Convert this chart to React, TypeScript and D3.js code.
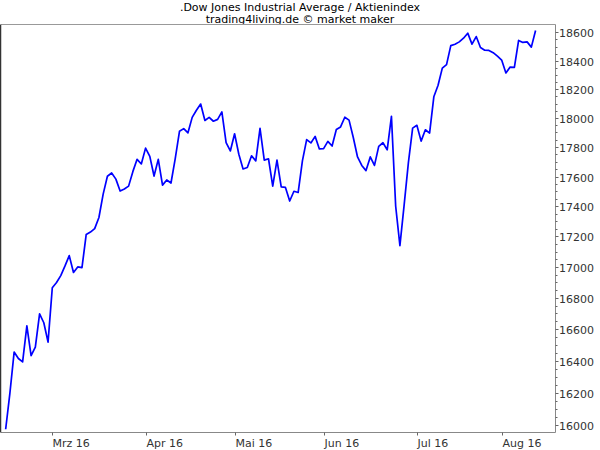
import React from "react";
import * as d3 from "d3";

const titleLines = [".Dow Jones Industrial Average / Aktienindex", "trading4living.de © market maker"];

const dates = [
  "2016-02-12", "2016-02-16", "2016-02-17", "2016-02-18", "2016-02-19", "2016-02-22", "2016-02-23", "2016-02-24", "2016-02-25", "2016-02-26", "2016-02-29",
  "2016-03-01", "2016-03-02", "2016-03-03", "2016-03-04", "2016-03-07", "2016-03-08", "2016-03-09", "2016-03-10", "2016-03-11", "2016-03-14", "2016-03-15",
  "2016-03-16", "2016-03-17", "2016-03-18", "2016-03-21", "2016-03-22", "2016-03-23", "2016-03-24", "2016-03-28", "2016-03-29", "2016-03-30", "2016-03-31",
  "2016-04-01", "2016-04-04", "2016-04-05", "2016-04-06", "2016-04-07", "2016-04-08", "2016-04-11", "2016-04-12", "2016-04-13", "2016-04-14", "2016-04-15",
  "2016-04-18", "2016-04-19", "2016-04-20", "2016-04-21", "2016-04-22", "2016-04-25", "2016-04-26", "2016-04-27", "2016-04-28", "2016-04-29",
  "2016-05-02", "2016-05-03", "2016-05-04", "2016-05-05", "2016-05-06", "2016-05-09", "2016-05-10", "2016-05-11", "2016-05-12", "2016-05-13",
  "2016-05-16", "2016-05-17", "2016-05-18", "2016-05-19", "2016-05-20", "2016-05-23", "2016-05-24", "2016-05-25", "2016-05-26", "2016-05-27", "2016-05-31",
  "2016-06-01", "2016-06-02", "2016-06-03", "2016-06-06", "2016-06-07", "2016-06-08", "2016-06-09", "2016-06-10", "2016-06-13", "2016-06-14", "2016-06-15",
  "2016-06-16", "2016-06-17", "2016-06-20", "2016-06-21", "2016-06-22", "2016-06-23", "2016-06-24", "2016-06-27", "2016-06-28", "2016-06-29", "2016-06-30",
  "2016-07-01", "2016-07-05", "2016-07-06", "2016-07-07", "2016-07-08", "2016-07-11", "2016-07-12", "2016-07-13", "2016-07-14", "2016-07-15",
  "2016-07-18", "2016-07-19", "2016-07-20", "2016-07-21", "2016-07-22", "2016-07-25", "2016-07-26", "2016-07-27", "2016-07-28", "2016-07-29",
  "2016-08-01", "2016-08-02", "2016-08-03", "2016-08-04", "2016-08-05", "2016-08-08", "2016-08-09", "2016-08-10", "2016-08-11",
];

const closes = [
  15973.84, 16196.41, 16453.83, 16413.43, 16391.99, 16620.66, 16431.78, 16484.99, 16697.29, 16639.97, 16516.5,
  16865.08, 16899.32, 16943.9, 17006.77, 17073.95, 16964.1, 17000.36, 16995.13, 17213.31, 17229.13, 17251.53,
  17325.76, 17481.49, 17602.3, 17623.87, 17582.57, 17502.59, 17515.73, 17535.39, 17633.11, 17716.66, 17685.09,
  17792.75, 17737.0, 17603.32, 17716.05, 17541.96, 17576.96, 17556.41, 17721.25, 17908.28, 17926.43, 17897.46,
  18004.16, 18053.6, 18096.27, 17982.52, 18003.75, 17977.24, 17990.32, 18041.55, 17830.76, 17773.64,
  17891.16, 17750.91, 17651.26, 17660.71, 17740.63, 17705.91, 17928.35, 17711.12, 17720.5, 17535.32,
  17710.71, 17529.98, 17526.62, 17435.4, 17500.94, 17492.93, 17706.05, 17851.51, 17828.29, 17873.22, 17787.2,
  17789.67, 17838.56, 17807.06, 17920.33, 17938.28, 18005.05, 17985.19, 17865.34, 17732.48, 17674.82, 17640.17,
  17733.1, 17675.16, 17804.87, 17829.73, 17780.83, 18011.07, 17400.75, 17140.24, 17409.72, 17694.68, 17929.99,
  17949.37, 17840.62, 17918.62, 17895.88, 18146.74, 18226.93, 18347.67, 18372.12, 18506.41, 18516.55,
  18533.05, 18559.01, 18595.03, 18517.23, 18570.85, 18493.06, 18473.75, 18472.17, 18456.35, 18432.24,
  18404.51, 18313.77, 18355.0, 18352.05, 18543.53, 18529.29, 18533.05, 18495.66, 18613.52,
];

const monthTickDates = ["2016-03-01", "2016-04-01", "2016-05-02", "2016-06-01", "2016-07-01", "2016-08-01"];
const monthTickLabels = ["Mrz 16", "Apr 16", "Mai 16", "Jun 16", "Jul 16", "Aug 16"];
const yTickValues = [16000, 16200, 16400, 16600, 16800, 17000, 17200, 17400, 17600, 17800, 18000, 18200, 18400, 18600];

const FONT = "'DejaVu Sans', Verdana, sans-serif";

export default function App() {
  const W = 600;
  const H = 450;
  const left = 1;
  const right = 555.5;
  const top = 24.5;
  const bottom = 432.5;

  const x = d3.scaleLinear().domain([-1.1, 129.7]).range([left, right]);
  const y = d3.scaleLog().domain([15954, 18657]).range([bottom, top]);

  const line = d3
    .line<number>()
    .x((_, i) => x(i))
    .y((d) => y(d));

  const minorTicks = d3.range(16000, 18650, 50).filter((v) => v % 200 !== 0);

  return (
    <svg
      width={W}
      height={H}
      style={{ position: "absolute", left: 0, top: 0, background: "#fff" }}
      fontFamily={FONT}
    >
      <rect x={0} y={0} width={W} height={H} fill="#fff" />
      {titleLines.map((t, i) => (
        <text key={i} x={300} y={11 + i * 12} textAnchor="middle" fontSize={11} fill="#000">
          {t}
        </text>
      ))}

      <path d={line(closes) || ""} fill="none" stroke="#0000ff" strokeWidth={1.7} strokeLinejoin="round" />

      {/* frame */}
      <line x1={left} x2={right} y1={top} y2={top} stroke="#999" strokeWidth={1} />
      <line x1={left} x2={right} y1={bottom} y2={bottom} stroke="#888" strokeWidth={1} />
      <line x1={right} x2={right} y1={top} y2={bottom} stroke="#888" strokeWidth={1} />
      <line x1={0.5} x2={0.5} y1={top} y2={bottom} stroke="#333" strokeWidth={1.5} />

      {/* x axis ticks */}
      {monthTickDates.map((d, i) => {
        const idx = dates.indexOf(d);
        const xp = Math.round(x(idx)) + 0.5;
        return (
          <g key={d}>
            <line x1={xp} x2={xp} y1={bottom} y2={bottom + 3} stroke="#666" />
            <text x={xp} y={447} fontSize={11} fill="#333">
              {monthTickLabels[i]}
            </text>
          </g>
        );
      })}

      {/* y axis */}
      {minorTicks.map((v) => {
        const yp = Math.round(y(v)) + 0.5;
        return <line key={v} x1={right} x2={right + 2} y1={yp} y2={yp} stroke="#666" />;
      })}
      {yTickValues.map((v) => {
        const yp = Math.round(y(v)) + 0.5;
        return (
          <g key={v}>
            <line x1={right} x2={right + 3} y1={yp} y2={yp} stroke="#666" />
            <text x={559} y={yp + 4} fontSize={11} fill="#333">
              {v}
            </text>
          </g>
        );
      })}
    </svg>
  );
}
